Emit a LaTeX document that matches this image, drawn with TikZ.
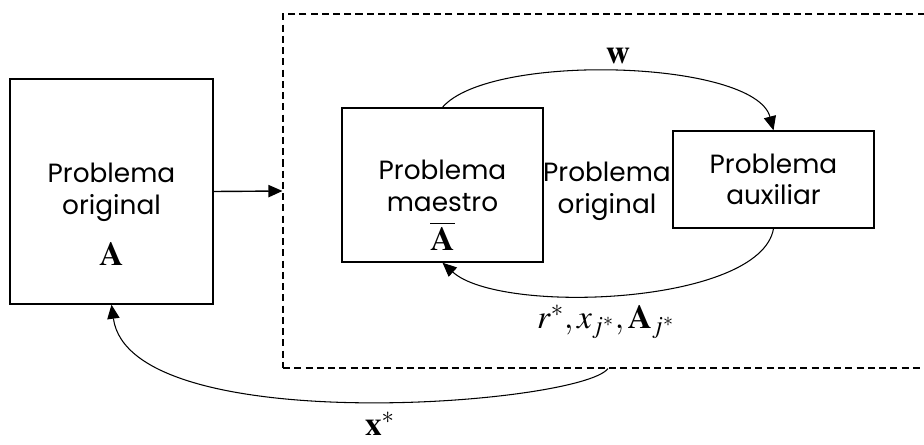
\documentclass[tikz,border=0pt]{standalone}
\usepackage{mathptmx}
\usepackage[no-math]{fontspec}
\setmainfont{Poppins}
\usetikzlibrary{arrows.meta,positioning,calc}

\tikzset{
  caja/.style={draw, line width=0.8pt, minimum width=4.02cm},
  texto/.style={align=center, font=\fontsize{15}{18}\selectfont, inner sep=0pt},
  mate/.style={inner sep=0pt, font=\fontsize{19}{22}\selectfont},
  flecha/.style={-{Triangle[length=8pt,width=7pt]}, line width=0.6pt},
}

\begin{document}
\begin{tikzpicture}[x=0.02cm, y=-0.02cm]
\useasboundingbox (0,0) rectangle (924,444);
% problema original
\node[caja, minimum width=4.06cm, minimum height=4.5cm] (orig) at (111.5,191.5) {};
\node[texto] (origtxt) at (111.5,192) {Problema\\original};
\node[mate] (origA) at (111.5,254) {$\mathbf{A}$};
% recuadro discontinuo
\node[draw, dash pattern=on 4pt off 2.4pt, line width=0.7pt, minimum width=13cm, minimum height=7.08cm] (sub) at (608,191) {};
\node[caja, minimum height=3.08cm] (maestro) at (442.5,185) {};
\node[texto] (maestrotxt) at (442.5,186) {Problema\\maestro};
\node[mate] (maestroA) at (442.5,236) {$\overline{\mathbf{A}}$};
\node[texto] (medio) at (607,191) {Problema\\original};
\node[caja, texto, minimum height=1.94cm] (aux) at (773.5,179.5) {Problema\\auxiliar};
% flechas
\draw[flecha, line width=0.8pt] (orig.east) -- (sub.west);
\draw[flecha] (maestro.north) .. controls (490,52) and (755,60) .. (aux.north);
\node[mate] (w) at (618,56) {$\mathbf{w}$};
\draw[flecha] (aux.south) .. controls (760,305) and (500,315) .. (maestro.south);
\node[mate] (rx) at (606,322) {$r^*, x_{j^*}, \mathbf{A}_{j^*}$};
\draw[flecha] (sub.south) .. controls (580,405) and (130,440) .. (orig.south);
\node[mate] (xs) at (380,424) {$\mathbf{x}^*$};
\end{tikzpicture}
\end{document}
